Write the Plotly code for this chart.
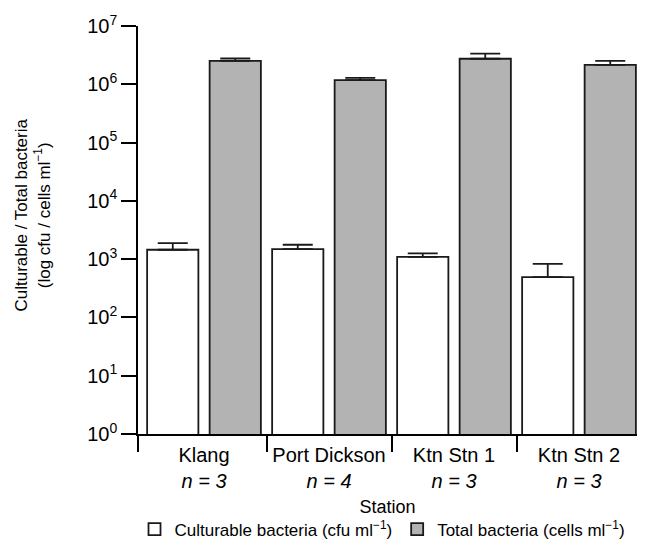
import plotly.graph_objects as go

stations = ["Klang", "Port Dickson", "Ktn Stn 1", "Ktn Stn 2"]
n_samples = [3, 4, 3, 3]
culturable = [1450, 1490, 1090, 490]
culturable_err = [440, 276, 166, 341]
total = [2.53e6, 1.18e6, 2.74e6, 2.16e6]
total_err = [0.24e6, 0.11e6, 0.63e6, 0.37e6]
y_tick_exps = [0, 1, 2, 3, 4, 5, 6, 7]

x_pos = list(range(len(stations)))
tick_text = [f"{s}<br><i>n = {n}</i>" for s, n in zip(stations, n_samples)]

FONT = "Liberation Sans, Arial, sans-serif"
EDGE = "#1a1a1a"

fig = go.Figure()
fig.add_trace(go.Bar(
    x=x_pos, y=culturable, name="Culturable bacteria (cfu ml<sup>−1</sup>)",
    marker=dict(color="white", line=dict(color=EDGE, width=1.8)),
    error_y=dict(type="data", array=culturable_err, arrayminus=[0] * 4,
                 symmetric=False, color=EDGE, thickness=1.8, width=15),
))
fig.add_trace(go.Bar(
    x=x_pos, y=total, name="Total bacteria (cells ml<sup>−1</sup>)",
    marker=dict(color="#b3b3b3", line=dict(color=EDGE, width=1.8)),
    error_y=dict(type="data", array=total_err, arrayminus=[0] * 4,
                 symmetric=False, color=EDGE, thickness=1.8, width=15),
))

x0 = -0.528
x1 = 3.464
fig.update_layout(
    width=629, height=532,
    margin=dict(l=130, r=0, t=18, b=106, autoexpand=False),
    paper_bgcolor="white", plot_bgcolor="white",
    barmode="group", bargap=0.0, bargroupgap=0.18,
    font=dict(family=FONT, size=20, color="black"),
    showlegend=True,
    legend=dict(orientation="h", x=0.49, xanchor="center", y=-0.19, yanchor="top",
                font=dict(size=17), itemwidth=30, traceorder="normal",
                bgcolor="rgba(0,0,0,0)"),
    xaxis=dict(
        range=[x0, x1], tickmode="array", tickvals=x_pos, ticktext=tick_text,
        ticks="outside", ticklen=2, tickcolor="rgba(0,0,0,0)",
        showline=True, linecolor="black", linewidth=1.5,
        showgrid=False, zeroline=False, automargin=False,
        minor=dict(tickmode="array", tickvals=[x0, 0.5, 1.5, 2.5],
                   ticks="outside", ticklen=16, tickcolor="black", tickwidth=1.5,
                   showgrid=False),
        tickfont=dict(size=20),
        title=dict(text="Station", font=dict(size=18), standoff=10),
    ),
    yaxis=dict(
        type="log", range=[0, 7], tickmode="array",
        tickvals=[10 ** e for e in y_tick_exps],
        ticktext=[f"10<sup>{e}</sup>" for e in y_tick_exps],
        ticks="outside", ticklen=15, tickcolor="black", tickwidth=1.5,
        showline=True, linecolor="black", linewidth=1.5,
        showgrid=False, zeroline=False, automargin=False,
        tickfont=dict(size=20),
    ),
    annotations=[dict(
        text="Culturable / Total bacteria<br>(log cfu / cells ml<sup>−1</sup>)",
        xref="paper", yref="paper", x=(25 - 130) / 499, y=0.5355,
        xanchor="center", yanchor="middle", textangle=-90, showarrow=False,
        font=dict(size=17),
    )],
)

fig.write_html("out.html")
